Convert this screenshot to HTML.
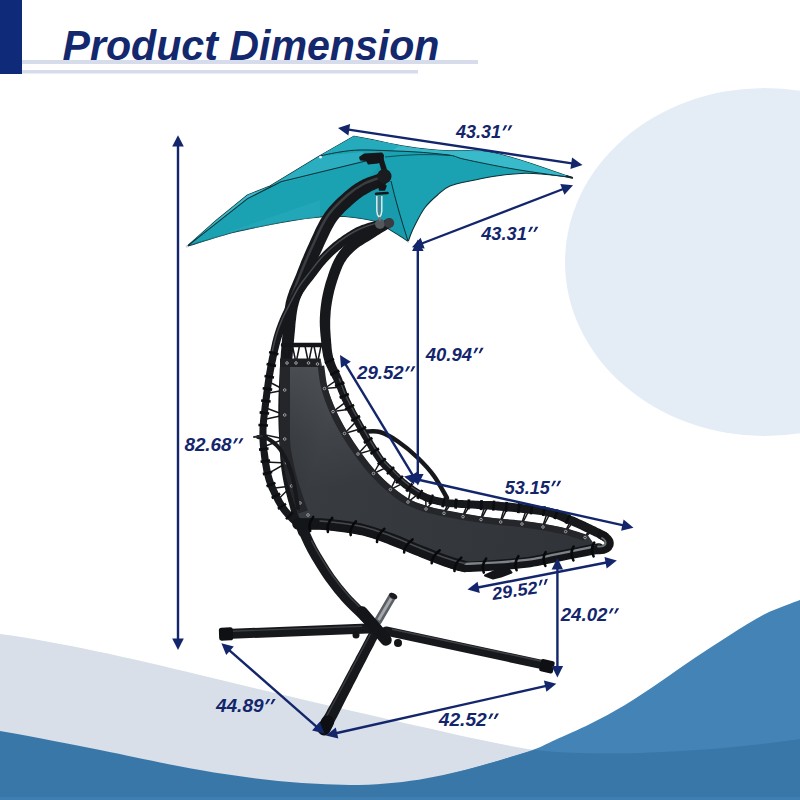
<!DOCTYPE html>
<html>
<head>
<meta charset="utf-8">
<title>Product Dimension</title>
<style>
html,body{margin:0;padding:0;background:#fff;}
body{width:800px;height:800px;overflow:hidden;position:relative;font-family:"Liberation Sans",sans-serif;}
svg{position:absolute;left:0;top:0;display:block;}
.lbl{font-family:"Liberation Sans",sans-serif;font-weight:bold;font-style:italic;fill:#13266b;}
</style>
</head>
<body>
<svg width="800" height="800" viewBox="0 0 800 800">
<defs>
  <linearGradient id="fabgrad" gradientUnits="userSpaceOnUse" x1="280" y1="440" x2="600" y2="540">
    <stop offset="0" stop-color="#2e3135"/>
    <stop offset="0.12" stop-color="#383b40"/>
    <stop offset="0.45" stop-color="#35383d"/>
    <stop offset="1" stop-color="#303338"/>
  </linearGradient>
  <linearGradient id="fabtop" gradientUnits="userSpaceOnUse" x1="300" y1="360" x2="315" y2="490">
    <stop offset="0" stop-color="#8a8e95" stop-opacity="0.32"/>
    <stop offset="0.6" stop-color="#8a8e95" stop-opacity="0.10"/>
    <stop offset="1" stop-color="#8a8e95" stop-opacity="0"/>
  </linearGradient>
</defs>

<!-- ===== BACKGROUND ===== -->
<rect width="800" height="800" fill="#ffffff"/>
<ellipse cx="765" cy="262" rx="200" ry="174" fill="#e4edf6"/>

<!-- grey wave -->
<path id="wave-grey" d="M0,634 C60,642 130,658 200,675 C270,692 340,708 400,722 C450,733 500,745 540,751 L640,800 L0,800 Z" fill="#d8dfe9"/>
<!-- light blue wave -->
<path id="wave-lblue" d="M800.0,600.0 C794.2,602.3 776.7,608.2 765.0,614.0 C753.3,619.8 741.7,627.7 730.0,635.0 C718.3,642.3 706.7,649.9 695.0,657.8 C683.3,665.6 671.7,674.1 660.0,682.0 C648.3,689.9 636.7,698.0 625.0,705.0 C613.3,712.0 601.7,718.2 590.0,724.0 C578.3,729.8 564.8,735.6 555.0,740.0 C545.2,744.4 543.5,746.2 531.0,750.5 C518.5,754.8 496.8,761.1 480.0,766.0 C463.2,770.9 446.7,774.3 430.0,780.0 C413.3,785.7 388.3,796.7 380.0,800.0 L800,800 Z" fill="#4383b6"/>
<!-- dark blue wave -->
<path id="wave-dblue" d="M0,731 C40,738 70,744 100,750 C140,758 170,765 200,770 C250,779 300,784 350,785 C400,785 440,777 480,766 C505,759 520,754 535,750 C570,754 610,754 640,753 C700,751 760,745 800,739 L800,800 L0,800 Z" fill="#3a77a9"/>
<rect x="0" y="797" width="800" height="3" fill="#3f7eb1"/>

<!-- ===== HEADER ===== -->
<g id="header">
  <rect x="0" y="0" width="22" height="74" fill="#0f2a78"/>
  <rect x="22" y="60" width="456" height="4" fill="#d6dcea"/>
  <rect x="22" y="70" width="396" height="3.5" fill="#d6dcea"/>
  <text id="title" x="62.5" y="59.5" font-family="Liberation Sans, sans-serif" font-weight="bold" font-style="italic" font-size="42.5" fill="#14286d" textLength="377" lengthAdjust="spacingAndGlyphs">Product Dimension</text>
</g>

<!-- ===== CHAIR ===== -->
<g id="chair">
<g id="umbrella">
<path d="M186.7,246.6 Q216,219.5 247.5,195 L270,186 L319.5,156 L354,136.2 C357.5,136.9 366.5,138.6 375.0,140.3 C383.5,142.0 396.2,144.8 405.0,146.3 C413.8,147.8 420.0,148.6 427.5,149.3 C435.0,150.1 443.2,150.6 450.0,150.8 C456.8,151.0 461.8,150.4 468.0,150.6 C474.2,150.8 480.5,150.7 487.5,151.8 C494.5,152.9 502.5,155.0 510.0,157.0 C517.5,159.0 525.0,161.5 532.5,164.0 C540.0,166.5 548.5,169.5 555.0,171.8 C561.5,174.0 568.8,176.5 571.5,177.4 C567.2,176.9 553.8,175.2 546.0,174.5 C538.2,173.8 532.7,173.0 525.0,173.2 C517.3,173.4 508.3,174.4 500.0,175.5 C491.7,176.6 483.3,178.2 475.0,180.0 C466.7,181.8 456.2,183.5 450.0,186.0 C443.8,188.5 441.7,191.4 437.5,195.0 C433.3,198.6 428.8,202.5 425.0,207.5 C421.2,212.5 417.4,220.4 415.0,225.0 C412.6,229.6 411.6,232.2 410.5,235.0 C409.4,237.8 408.7,240.4 408.3,241.5 C406.5,240.3 400.6,236.2 397.5,234.3 C394.4,232.4 393.2,231.9 390.0,229.8 C386.8,227.8 385.5,224.2 378.0,222.0 C370.5,219.8 354.7,217.3 345.0,216.5 C335.3,215.7 329.2,216.2 320.0,217.0 C310.8,217.8 304.2,218.5 290.0,221.0 C275.8,223.5 252.2,227.7 235.0,232.0 C217.8,236.3 194.8,244.2 186.7,246.6 Z" fill="#1aa1b2" stroke="#0b3036" stroke-width="1.1" stroke-linejoin="round"/>
<path d="M319.5,156 L354,136.2 C357.5,136.9 366.5,138.6 375.0,140.3 C383.5,142.0 396.2,144.8 405.0,146.3 C413.8,147.8 420.0,148.6 427.5,149.3 C435.0,150.1 443.2,150.6 450.0,150.8 C456.8,151.0 461.8,150.4 468.0,150.6 C474.2,150.8 480.5,150.7 487.5,151.8 C494.5,152.9 502.5,155.0 510.0,157.0 C517.5,159.0 525.0,161.5 532.5,164.0 C540.0,166.5 548.5,169.5 555.0,171.8 C561.5,174.0 568.8,176.5 571.5,177.4 C567.2,176.8 556.2,175.5 546.0,174.0 C535.8,172.5 523.5,170.8 510.0,168.4 C496.5,166.0 475.0,161.6 465.0,159.4 C455.0,157.2 457.5,156.4 450.0,155.2 C442.5,154.1 430.0,153.0 420.0,152.2 C410.0,151.5 400.0,151.1 390.0,150.8 C380.0,150.4 368.3,149.8 360.0,150.0 C351.7,150.2 346.8,151.0 340.0,152.0 C333.2,153.0 322.9,155.3 319.5,156.0 Z" fill="#3cbccc" opacity="0.9"/>
<path d="M319.5,156 L354,136.2 L400,145.5 L392,150.8 L360,150 Z" fill="#1fa5b6" opacity="0.7"/>
<path d="M270,186 L319.5,156 L362,152 L378,158 Z" fill="#2fb2c3" opacity="0.8"/>
<path d="M186.7,246.6 Q216,219.5 247.5,195 L270,186 L247.5,198.6 Z" fill="#45c0cf" opacity="0.8"/>
<path d="M385,160 L408.3,241.5 C406.5,240.3 400.6,236.2 397.5,234.3 C394.4,232.4 393.2,231.9 390.0,229.8 C386.8,227.8 385.5,224.2 378.0,222.0 C370.5,219.8 353.0,217.4 345.0,216.5 C337.0,215.6 332.5,216.5 330.0,216.5 L330,216 Z" fill="#1799aa" opacity="0.6"/>
<path d="M186.7,246.6 L320,200 L320,217 L290,221 L235,232 Z" fill="#27adbd" opacity="0.5"/>
<path d="M186.7,246.6 L247.5,198.6 L281,181.7 L378,158" stroke="#0b3036" stroke-width="1.1" fill="none"/>
<path d="M319.5,156.0 C322.9,155.3 333.2,153.0 340.0,152.0 C346.8,151.0 351.7,150.2 360.0,150.0 C368.3,149.8 380.0,150.4 390.0,150.8 C400.0,151.1 410.0,151.5 420.0,152.2 C430.0,153.0 442.5,154.1 450.0,155.2 C457.5,156.4 455.0,157.2 465.0,159.4 C475.0,161.6 496.5,166.0 510.0,168.4 C523.5,170.8 535.8,172.5 546.0,174.0 C556.2,175.5 567.2,176.8 571.5,177.4" stroke="#0b3036" stroke-width="1" fill="none"/>
<path d="M385,157 Q420,153 450,155.5" stroke="#0b3036" stroke-width="0.9" fill="none" opacity="0.8"/>
<path d="M391,181 Q397,207 408,241" stroke="#0b3036" stroke-width="1" fill="none"/>
<circle cx="187" cy="246.5" r="1.3" fill="#d9dcdf"/>
<circle cx="320.5" cy="157.2" r="1.4" fill="#eef0f2"/>
<circle cx="408.3" cy="242" r="1" fill="#d9dcdf"/>
<path d="M567,176.2 L572,177.8" stroke="#14292d" stroke-width="2.2" stroke-linecap="round"/>
</g>
<g id="frame-back" fill="none" stroke-linecap="round" stroke-linejoin="round">
<path d="M378.7,173.9 L378.0,174.1 L377.2,174.3 L376.1,174.6 L374.9,175.0 L373.6,175.4 L372.1,175.9 L370.6,176.4 L369.0,176.9 L367.4,177.5 L365.8,178.2 L364.1,178.9 L362.6,179.6 L361.2,180.4 L359.8,181.1 L358.5,181.9 L357.1,182.7 L355.7,183.6 L354.3,184.5 L352.9,185.5 L351.4,186.6 L349.9,187.7 L348.4,188.9 L346.8,190.2 L345.2,191.6 L343.6,192.9 L342.0,194.4 L340.3,195.9 L338.5,197.5 L336.7,199.2 L334.9,201.0 L333.0,202.9 L331.2,204.9 L329.3,207.0 L327.5,209.2 L325.7,211.5 L324.0,213.9 L322.4,216.5 L320.8,219.1 L319.2,221.9 L317.8,224.7 L316.3,227.6 L314.9,230.5 L313.6,233.4 L312.3,236.2 L311.0,239.0 L309.8,241.8 L308.6,244.4 L307.4,247.0 L306.3,249.5 L305.2,252.0 L304.1,254.4 L303.1,256.9 L302.1,259.3 L301.1,261.6 L300.2,264.0 L299.3,266.3 L298.4,268.6 L297.4,270.9 L296.6,273.2 L295.7,275.4 L294.8,277.5 L294.0,279.6 L293.1,281.6 L292.2,283.7 L291.3,285.8 L290.4,287.9 L289.5,290.1 L288.7,292.4 L287.9,294.7 L287.1,297.2 L286.4,299.8 L285.7,302.6 L285.2,305.4 L284.7,308.4 L284.3,311.3 L284.0,314.4 L283.6,317.4 L283.4,320.6 L283.1,323.7 L282.9,326.8 L282.7,330.0 L282.5,333.2 L282.3,336.3 L282.0,339.5 L281.7,342.7 L281.5,345.9 L281.2,349.2 L280.9,352.5 L280.7,355.9 L280.4,359.3 L280.2,362.7 L280.0,366.1 L279.7,369.5 L279.6,372.9 L279.4,376.3 L279.2,379.7 L279.1,383.0 L278.9,386.3 L278.8,389.5 L278.6,392.7 L278.5,395.9 L278.4,399.2 L278.4,402.5 L278.3,405.8 L278.3,409.3 L278.3,412.8 L278.3,416.4 L278.4,420.1 L278.5,424.0 L278.6,428.0 L278.8,432.2 L279.0,436.5 L279.2,440.9 L279.4,445.3 L279.6,449.7 L280.0,454.1 L280.3,458.4 L280.7,462.7 L281.1,466.8 L281.6,470.7 L282.2,474.6 L282.9,478.4 L283.6,482.2 L284.4,485.9 L285.2,489.5 L286.1,493.0 L287.0,496.4 L287.8,499.7 L288.7,502.8 L289.5,505.8 L290.3,508.7 L291.0,511.3 L291.7,513.9 L292.4,516.4 L293.1,518.8 L293.8,521.0 L294.6,523.2 L295.2,525.1 L295.9,527.0 L296.5,528.6 L297.0,530.1 L297.5,531.5 L297.9,532.6 L298.3,533.6 L307.7,530.4 L307.4,529.4 L307.0,528.2 L306.6,526.8 L306.0,525.3 L305.5,523.6 L304.9,521.9 L304.3,520.0 L303.6,517.9 L303.0,515.8 L302.3,513.5 L301.7,511.2 L301.0,508.7 L300.3,506.0 L299.6,503.1 L298.8,500.2 L298.0,497.0 L297.2,493.8 L296.4,490.5 L295.6,487.1 L294.8,483.6 L294.1,480.1 L293.5,476.5 L292.9,472.9 L292.4,469.3 L291.9,465.5 L291.5,461.6 L291.2,457.5 L290.9,453.3 L290.6,449.0 L290.4,444.7 L290.2,440.4 L290.0,436.1 L289.9,431.8 L289.8,427.7 L289.7,423.7 L289.6,419.9 L289.6,416.2 L289.5,412.7 L289.6,409.3 L289.6,406.0 L289.7,402.8 L289.8,399.6 L290.0,396.4 L290.1,393.2 L290.3,390.0 L290.4,386.8 L290.6,383.6 L290.8,380.3 L291.0,377.0 L291.2,373.6 L291.4,370.3 L291.7,366.9 L291.9,363.6 L292.2,360.2 L292.5,356.9 L292.8,353.5 L293.1,350.2 L293.4,347.0 L293.7,343.7 L294.0,340.5 L294.3,337.3 L294.6,334.1 L294.9,331.0 L295.2,327.8 L295.4,324.7 L295.7,321.7 L296.1,318.7 L296.4,315.8 L296.8,313.1 L297.2,310.4 L297.7,307.8 L298.3,305.4 L298.9,303.1 L299.5,301.0 L300.2,299.0 L301.0,297.0 L301.7,295.0 L302.6,293.1 L303.5,291.2 L304.4,289.2 L305.4,287.2 L306.3,285.1 L307.3,282.9 L308.3,280.6 L309.3,278.3 L310.2,276.1 L311.2,273.9 L312.1,271.6 L313.1,269.4 L314.1,267.1 L315.1,264.8 L316.1,262.5 L317.2,260.2 L318.3,257.9 L319.4,255.5 L320.6,253.0 L321.8,250.5 L323.0,247.8 L324.2,245.0 L325.5,242.2 L326.8,239.4 L328.1,236.7 L329.4,233.9 L330.7,231.3 L332.0,228.8 L333.3,226.4 L334.7,224.1 L336.0,222.1 L337.4,220.1 L338.8,218.3 L340.3,216.5 L341.9,214.7 L343.5,213.0 L345.1,211.3 L346.8,209.7 L348.4,208.2 L350.1,206.7 L351.7,205.2 L353.3,203.8 L354.8,202.4 L356.2,201.2 L357.5,200.2 L358.7,199.2 L360.0,198.3 L361.1,197.4 L362.3,196.6 L363.5,195.8 L364.7,195.1 L365.8,194.4 L367.0,193.7 L368.2,193.0 L369.4,192.4 L370.5,191.7 L371.7,191.1 L372.9,190.5 L374.2,189.9 L375.6,189.3 L376.9,188.8 L378.1,188.2 L379.4,187.7 L380.5,187.3 L381.6,186.8 L382.5,186.4 L383.3,186.1 Z" fill="#17181b" stroke="none" /><circle cx="381.0" cy="180.0" r="6.5" fill="#17181b" stroke="none"/><circle cx="303.0" cy="532.0" r="5.0" fill="#17181b" stroke="none"/>
<path d="M381.0,180.0 C378.5,181.0 371.2,183.2 366.0,186.0 C360.8,188.8 356.0,191.7 350.0,197.0 C344.0,202.3 336.0,209.2 330.0,218.0 C324.0,226.8 318.7,240.0 314.0,250.0 C309.3,260.0 305.7,269.0 302.0,278.0 C298.3,287.0 293.7,299.7 292.0,304.0" stroke="#3a3d42" stroke-width="2.5" transform="translate(-2.5,-2)"/>
<path d="M296.0,510.0 C297.0,512.8 299.8,521.5 302.0,527.0 C304.2,532.5 306.7,538.2 309.0,543.0 C311.3,547.8 312.5,550.2 316.0,556.0 C319.5,561.8 325.0,571.0 330.0,578.0 C335.0,585.0 340.3,591.7 346.0,598.0 C351.7,604.3 359.0,611.0 364.0,616.0 C369.0,621.0 374.0,626.0 376.0,628.0" stroke="#17181b" stroke-width="10.3"/>
<path d="M309.0,543.0 C310.2,545.2 312.5,550.2 316.0,556.0 C319.5,561.8 325.0,571.0 330.0,578.0 C335.0,585.0 340.3,591.7 346.0,598.0 C351.7,604.3 361.0,613.0 364.0,616.0" stroke="#3a3d42" stroke-width="1.5" transform="translate(2.6,-2.2)"/>
</g>
<g id="base" stroke-linecap="butt" fill="none">
<path d="M392,597 L378,621" stroke="#5b5f64" stroke-width="8" stroke-linecap="round"/>
<path d="M391.2,598.5 L378.5,620" stroke="#a3a7ab" stroke-width="3"/>
<ellipse cx="393.2" cy="596" rx="4.4" ry="2.6" fill="#1b1c1f" stroke="none" transform="rotate(30 393.2 596)"/>
<path d="M226,634 L368,628.5" stroke="#17181b" stroke-width="10" stroke-linecap="round"/>
<path d="M232,631.2 L362,626.3" stroke="#3a3d42" stroke-width="1.4"/>
<rect x="219" y="627.5" width="14" height="13" rx="2.5" fill="#0f1013" stroke="none" transform="rotate(-2 226 634)"/>
<path d="M386,631 L549,666" stroke="#17181b" stroke-width="9.2" stroke-linecap="round"/>
<path d="M392,629.3 L543,661.5" stroke="#3c3f44" stroke-width="1.4"/>
<rect x="540" y="660" width="14" height="12.5" rx="2" fill="#0f1013" stroke="none" transform="rotate(12 547 666)"/>
<path d="M369.6,631.7 L368.8,633.1 L367.8,635.0 L366.6,637.1 L365.4,639.5 L363.9,642.2 L362.5,645.0 L360.9,647.9 L359.4,650.8 L357.8,653.8 L356.2,656.6 L354.8,659.4 L353.4,662.1 L352.0,664.6 L350.6,667.1 L349.3,669.7 L347.9,672.2 L346.6,674.8 L345.2,677.3 L343.9,679.8 L342.5,682.4 L341.2,684.9 L339.8,687.4 L338.5,689.9 L337.1,692.4 L335.7,695.0 L334.2,697.7 L332.6,700.6 L331.0,703.4 L329.4,706.3 L327.8,709.1 L326.3,711.9 L324.9,714.4 L323.5,716.8 L322.3,718.9 L321.3,720.6 L320.5,722.1 L331.5,727.9 L332.2,726.5 L333.1,724.6 L334.2,722.5 L335.4,720.1 L336.8,717.5 L338.2,714.7 L339.7,711.8 L341.1,708.9 L342.6,705.9 L344.1,703.0 L345.5,700.2 L346.9,697.6 L348.2,695.0 L349.5,692.5 L350.8,689.9 L352.1,687.4 L353.4,684.8 L354.8,682.3 L356.1,679.7 L357.4,677.2 L358.7,674.6 L360.0,672.0 L361.3,669.5 L362.6,666.9 L364.0,664.3 L365.5,661.5 L367.0,658.6 L368.5,655.6 L370.0,652.6 L371.5,649.7 L373.0,646.9 L374.4,644.3 L375.6,641.8 L376.7,639.7 L377.7,637.8 L378.4,636.3 Z" fill="#17181b" stroke="none" /><circle cx="374.0" cy="634.0" r="5.0" fill="#17181b" stroke="none"/><circle cx="326.0" cy="725.0" r="6.2" fill="#17181b" stroke="none"/>
<path d="M370.5,634 L323.5,722" stroke="#383b40" stroke-width="1.5"/>
<path d="M327.5,722 L324,729" stroke="#0e0f12" stroke-width="13" stroke-linecap="round"/>
<path d="M362,612 L386,640" stroke="#141518" stroke-width="11.5" stroke-linecap="round"/>
<circle cx="356" cy="635" r="3.5" fill="#141518" stroke="none"/>
<circle cx="398" cy="643" r="4" fill="#141518" stroke="none"/>
</g>
<g id="seat">
<path d="M284.7,390.0 L268.4,381.5" stroke="#15161a" stroke-width="1.5"/>
<path d="M284.7,390.0 L266.6,393.5" stroke="#15161a" stroke-width="1.5"/>
<path d="M284.7,415.0 L264.8,407.5" stroke="#15161a" stroke-width="1.5"/>
<path d="M284.7,415.0 L264.0,419.5" stroke="#15161a" stroke-width="1.5"/>
<path d="M284.7,439.0 L263.1,434.5" stroke="#15161a" stroke-width="1.5"/>
<path d="M284.7,439.0 L264.0,446.5" stroke="#15161a" stroke-width="1.5"/>
<path d="M286.5,463.0 L265.2,462.0" stroke="#15161a" stroke-width="1.5"/>
<path d="M286.5,463.0 L268.0,473.7" stroke="#15161a" stroke-width="1.5"/>
<path d="M291.5,486.0 L273.1,488.3" stroke="#15161a" stroke-width="1.5"/>
<path d="M291.5,486.0 L278.5,499.0" stroke="#15161a" stroke-width="1.5"/>
<path d="M324.5,388.5 L339.2,378.4" stroke="#15161a" stroke-width="1.5"/>
<path d="M324.5,388.5 L342.3,386.9" stroke="#15161a" stroke-width="1.5"/>
<path d="M333.0,411.6 L347.7,400.7" stroke="#15161a" stroke-width="1.5"/>
<path d="M333.0,411.6 L351.4,409.1" stroke="#15161a" stroke-width="1.5"/>
<path d="M344.5,433.5 L357.1,420.5" stroke="#15161a" stroke-width="1.5"/>
<path d="M344.5,433.5 L361.6,428.5" stroke="#15161a" stroke-width="1.5"/>
<path d="M358.0,454.0 L369.5,441.6" stroke="#15161a" stroke-width="1.5"/>
<path d="M358.0,454.0 L374.2,449.4" stroke="#15161a" stroke-width="1.5"/>
<path d="M373.5,473.5 L381.0,460.5" stroke="#15161a" stroke-width="1.5"/>
<path d="M373.5,473.5 L387.2,467.1" stroke="#15161a" stroke-width="1.5"/>
<path d="M390.4,489.6 L396.8,476.8" stroke="#15161a" stroke-width="1.5"/>
<path d="M390.4,489.6 L403.6,482.9" stroke="#15161a" stroke-width="1.5"/>
<path d="M408.0,502.0 L410.9,488.6" stroke="#15161a" stroke-width="1.5"/>
<path d="M408.0,502.0 L418.7,493.7" stroke="#15161a" stroke-width="1.5"/>
<path d="M426.0,509.0 L425.7,497.1" stroke="#15161a" stroke-width="1.5"/>
<path d="M426.0,509.0 L434.5,500.1" stroke="#15161a" stroke-width="1.5"/>
<path d="M444.0,513.3 L451.5,503.3" stroke="#15161a" stroke-width="1.5"/>
<path d="M443.5,513.3 L448.0,504.3" stroke="#15161a" stroke-width="1.5"/>
<path d="M463.0,516.7 L470.5,504.4" stroke="#15161a" stroke-width="1.5"/>
<path d="M462.5,516.7 L467.0,505.4" stroke="#15161a" stroke-width="1.5"/>
<path d="M481.0,519.6 L488.5,505.2" stroke="#15161a" stroke-width="1.5"/>
<path d="M480.5,519.6 L485.0,506.2" stroke="#15161a" stroke-width="1.5"/>
<path d="M500.7,522.0 L508.0,506.8" stroke="#15161a" stroke-width="1.5"/>
<path d="M500.2,522.0 L504.5,507.8" stroke="#15161a" stroke-width="1.5"/>
<path d="M522.0,524.0 L529.5,509.5" stroke="#15161a" stroke-width="1.5"/>
<path d="M521.5,524.0 L526.0,510.5" stroke="#15161a" stroke-width="1.5"/>
<path d="M543.0,527.0 L550.3,513.0" stroke="#15161a" stroke-width="1.5"/>
<path d="M542.5,527.0 L546.8,514.0" stroke="#15161a" stroke-width="1.5"/>
<path d="M565.7,531.6 L573.3,521.5" stroke="#15161a" stroke-width="1.5"/>
<path d="M565.2,531.6 L569.8,522.5" stroke="#15161a" stroke-width="1.5"/>
<path d="M585.0,537.5 L592.3,530.3" stroke="#15161a" stroke-width="1.5"/>
<path d="M584.5,537.5 L588.8,531.3" stroke="#15161a" stroke-width="1.5"/>
<path d="M283.5,346.0 L287.0,363.0" stroke="#15161a" stroke-width="1.5"/>
<path d="M290.5,346.0 L287.0,363.0" stroke="#15161a" stroke-width="1.5"/>
<path d="M292.5,346.0 L296.0,363.0" stroke="#15161a" stroke-width="1.5"/>
<path d="M299.5,346.0 L296.0,363.0" stroke="#15161a" stroke-width="1.5"/>
<path d="M305.0,346.0 L308.5,363.0" stroke="#15161a" stroke-width="1.5"/>
<path d="M312.0,346.0 L308.5,363.0" stroke="#15161a" stroke-width="1.5"/>
<path d="M314.0,346.0 L317.5,363.0" stroke="#15161a" stroke-width="1.5"/>
<path d="M321.0,346.0 L317.5,363.0" stroke="#15161a" stroke-width="1.5"/>
<path d="M320.5,359.0 C321.7,363.8 324.9,379.2 327.4,387.7 C329.9,396.3 332.5,403.0 335.7,410.4 C339.0,417.8 343.0,425.0 347.1,432.0 C351.2,439.0 355.7,445.7 360.4,452.2 C365.2,458.8 370.4,465.6 375.7,471.5 C381.0,477.3 386.7,482.6 392.3,487.3 C397.9,491.9 403.7,496.2 409.4,499.4 C415.2,502.5 421.0,504.3 426.9,506.1 C432.8,508.0 438.5,509.1 444.6,510.4 C450.7,511.6 457.4,512.7 463.5,513.7 C469.6,514.8 475.2,515.8 481.4,516.6 C487.7,517.5 494.2,518.3 501.0,519.0 C507.8,519.7 515.3,520.2 522.4,521.0 C529.4,521.9 536.2,522.8 543.5,524.0 C550.9,525.3 559.0,526.8 566.4,528.7 C573.8,530.6 584.4,534.4 588.0,535.5 L597,548 C591.2,548.8 573.7,551.3 562.5,553.0 C551.3,554.7 540.8,556.7 530.0,558.0 C519.2,559.3 508.3,560.3 497.5,561.0 C486.7,561.7 473.6,562.7 465.0,562.0 C456.4,561.3 453.7,559.7 446.0,557.0 C438.3,554.3 428.2,549.7 419.0,546.0 C409.8,542.3 400.2,538.3 391.0,535.0 C381.8,531.7 373.2,528.2 364.0,526.0 C354.8,523.8 346.3,522.5 336.0,521.5 C325.7,520.5 307.7,520.2 302.0,520.0 L299,517 C297.2,511.2 290.8,492.8 288.0,482.5 C285.2,472.2 283.3,462.1 282.0,455.0 C280.7,447.9 280.3,449.2 280.0,440.0 C279.7,430.8 280.0,413.5 280.0,400.0 C280.0,386.5 280.0,365.8 280.0,359.0 Z" fill="url(#fabgrad)"/>
<path d="M320.5,359.0 C321.7,363.8 324.9,379.2 327.4,387.7 C329.9,396.3 332.5,403.0 335.7,410.4 C339.0,417.8 343.0,425.0 347.1,432.0 C351.2,439.0 355.7,445.7 360.4,452.2 C365.2,458.8 370.4,465.6 375.7,471.5 C381.0,477.3 386.7,482.6 392.3,487.3 C397.9,491.9 403.7,496.2 409.4,499.4 C415.2,502.5 421.0,504.3 426.9,506.1 C432.8,508.0 438.5,509.1 444.6,510.4 C450.7,511.6 457.4,512.7 463.5,513.7 C469.6,514.8 475.2,515.8 481.4,516.6 C487.7,517.5 494.2,518.3 501.0,519.0 C507.8,519.7 515.3,520.2 522.4,521.0 C529.4,521.9 536.2,522.8 543.5,524.0 C550.9,525.3 559.0,526.8 566.4,528.7 C573.8,530.6 584.4,534.4 588.0,535.5 L597,548 C591.2,548.8 573.7,551.3 562.5,553.0 C551.3,554.7 540.8,556.7 530.0,558.0 C519.2,559.3 508.3,560.3 497.5,561.0 C486.7,561.7 473.6,562.7 465.0,562.0 C456.4,561.3 453.7,559.7 446.0,557.0 C438.3,554.3 428.2,549.7 419.0,546.0 C409.8,542.3 400.2,538.3 391.0,535.0 C381.8,531.7 373.2,528.2 364.0,526.0 C354.8,523.8 346.3,522.5 336.0,521.5 C325.7,520.5 307.7,520.2 302.0,520.0 L299,517 C297.2,511.2 290.8,492.8 288.0,482.5 C285.2,472.2 283.3,462.1 282.0,455.0 C280.7,447.9 280.3,449.2 280.0,440.0 C279.7,430.8 280.0,413.5 280.0,400.0 C280.0,386.5 280.0,365.8 280.0,359.0 Z" fill="url(#fabtop)"/>
<path d="M321.0,366.0 C321.6,369.8 322.5,380.9 324.5,388.5 C326.5,396.1 329.7,404.1 333.0,411.6 C336.3,419.1 340.3,426.4 344.5,433.5 C348.7,440.6 353.2,447.3 358.0,454.0 C362.8,460.7 368.1,467.6 373.5,473.5 C378.9,479.4 384.6,484.9 390.4,489.6 C396.1,494.4 402.1,498.8 408.0,502.0 C413.9,505.2 420.0,507.1 426.0,509.0 C432.0,510.9 437.8,512.0 444.0,513.3 C450.2,514.6 456.8,515.7 463.0,516.7 C469.2,517.8 474.7,518.7 481.0,519.6 C487.3,520.5 493.9,521.3 500.7,522.0 C507.5,522.7 515.0,523.2 522.0,524.0 C529.0,524.8 535.7,525.7 543.0,527.0 C550.3,528.3 558.7,529.9 565.7,531.6 C572.7,533.4 581.8,536.5 585.0,537.5" stroke="#24262a" stroke-width="6.5" fill="none"/>
<path d="M285.0,362.0 C285.0,368.3 285.0,387.0 285.0,400.0 C285.0,413.0 284.7,430.7 285.0,440.0 C285.3,449.3 285.7,449.0 287.0,456.0 C288.3,463.0 290.3,472.7 293.0,482.0 C295.7,491.3 301.3,507.0 303.0,512.0" stroke="#24262a" stroke-width="10" fill="none"/>
<rect x="280" y="358.5" width="40.5" height="8.5" fill="#1d1f22"/>
<circle cx="287.0" cy="363.0" r="1.3" fill="#2a2c30" stroke="#b4b8bd" stroke-width="0.8"/>
<circle cx="296.0" cy="363.0" r="1.3" fill="#2a2c30" stroke="#b4b8bd" stroke-width="0.8"/>
<circle cx="308.5" cy="363.0" r="1.3" fill="#2a2c30" stroke="#b4b8bd" stroke-width="0.8"/>
<circle cx="317.5" cy="364.0" r="1.3" fill="#2a2c30" stroke="#b4b8bd" stroke-width="0.8"/>
<circle cx="284.7" cy="390.0" r="1.3" fill="#2a2c30" stroke="#b4b8bd" stroke-width="0.8"/>
<circle cx="284.7" cy="415.0" r="1.3" fill="#2a2c30" stroke="#b4b8bd" stroke-width="0.8"/>
<circle cx="284.7" cy="439.0" r="1.3" fill="#2a2c30" stroke="#b4b8bd" stroke-width="0.8"/>
<circle cx="286.5" cy="463.0" r="1.3" fill="#2a2c30" stroke="#b4b8bd" stroke-width="0.8"/>
<circle cx="291.5" cy="486.0" r="1.3" fill="#2a2c30" stroke="#b4b8bd" stroke-width="0.8"/>
<circle cx="300.0" cy="503.0" r="1.3" fill="#2a2c30" stroke="#b4b8bd" stroke-width="0.8"/>
<circle cx="308.0" cy="515.0" r="1.3" fill="#2a2c30" stroke="#b4b8bd" stroke-width="0.8"/>
<circle cx="324.5" cy="388.5" r="1.3" fill="#2a2c30" stroke="#b4b8bd" stroke-width="0.8"/>
<circle cx="333.0" cy="411.6" r="1.3" fill="#2a2c30" stroke="#b4b8bd" stroke-width="0.8"/>
<circle cx="344.5" cy="433.5" r="1.3" fill="#2a2c30" stroke="#b4b8bd" stroke-width="0.8"/>
<circle cx="358.0" cy="454.0" r="1.3" fill="#2a2c30" stroke="#b4b8bd" stroke-width="0.8"/>
<circle cx="373.5" cy="473.5" r="1.3" fill="#2a2c30" stroke="#b4b8bd" stroke-width="0.8"/>
<circle cx="390.4" cy="489.6" r="1.3" fill="#2a2c30" stroke="#b4b8bd" stroke-width="0.8"/>
<circle cx="408.0" cy="502.0" r="1.3" fill="#2a2c30" stroke="#b4b8bd" stroke-width="0.8"/>
<circle cx="426.0" cy="509.0" r="1.3" fill="#2a2c30" stroke="#b4b8bd" stroke-width="0.8"/>
<circle cx="444.0" cy="513.3" r="1.3" fill="#2a2c30" stroke="#b4b8bd" stroke-width="0.8"/>
<circle cx="463.0" cy="516.7" r="1.3" fill="#2a2c30" stroke="#b4b8bd" stroke-width="0.8"/>
<circle cx="481.0" cy="519.6" r="1.3" fill="#2a2c30" stroke="#b4b8bd" stroke-width="0.8"/>
<circle cx="500.7" cy="522.0" r="1.3" fill="#2a2c30" stroke="#b4b8bd" stroke-width="0.8"/>
<circle cx="522.0" cy="524.0" r="1.3" fill="#2a2c30" stroke="#b4b8bd" stroke-width="0.8"/>
<circle cx="543.0" cy="527.0" r="1.3" fill="#2a2c30" stroke="#b4b8bd" stroke-width="0.8"/>
<circle cx="565.7" cy="531.6" r="1.3" fill="#2a2c30" stroke="#b4b8bd" stroke-width="0.8"/>
<circle cx="585.0" cy="537.5" r="1.3" fill="#2a2c30" stroke="#b4b8bd" stroke-width="0.8"/>
</g>
<g id="frame-front" fill="none" stroke-linecap="round" stroke-linejoin="round">
<path d="M283,345 L326,345" stroke="#141518" stroke-width="4.5"/>
<path d="M365.0,431.6 C367.5,431.7 374.5,430.4 380.0,432.0 C385.5,433.6 391.7,437.2 398.0,441.5 C404.3,445.8 412.0,452.2 418.0,458.0 C424.0,463.8 429.2,469.3 434.0,476.0 C438.8,482.7 444.8,494.3 447.0,498.0" stroke="#17181b" stroke-width="4.5"/>
<path d="M386.8,219.1 L385.8,219.6 L384.6,220.2 L383.3,220.9 L381.7,221.7 L380.0,222.6 L378.2,223.5 L376.4,224.5 L374.5,225.5 L372.6,226.6 L370.7,227.6 L368.9,228.6 L367.2,229.5 L365.7,230.5 L364.1,231.4 L362.6,232.4 L361.0,233.4 L359.3,234.4 L357.7,235.4 L356.1,236.4 L354.6,237.5 L353.0,238.6 L351.5,239.7 L350.0,240.8 L348.6,242.0 L347.3,243.2 L346.0,244.3 L344.8,245.5 L343.6,246.6 L342.5,247.8 L341.4,249.1 L340.3,250.3 L339.3,251.6 L338.3,253.0 L337.3,254.4 L336.4,255.8 L335.5,257.4 L334.6,259.0 L333.7,260.7 L332.9,262.4 L332.1,264.2 L331.4,266.0 L330.7,267.8 L330.0,269.6 L329.3,271.4 L328.7,273.2 L328.1,274.9 L327.6,276.7 L327.0,278.4 L326.5,280.1 L325.9,281.8 L325.4,283.5 L324.9,285.3 L324.5,287.0 L324.0,288.7 L323.6,290.5 L323.2,292.2 L322.8,293.9 L322.5,295.6 L322.1,297.4 L321.8,299.1 L321.5,300.8 L321.3,302.6 L321.0,304.3 L320.8,306.0 L320.6,307.7 L320.4,309.5 L320.2,311.2 L320.1,312.9 L320.0,314.7 L319.9,316.4 L319.8,318.1 L319.8,319.9 L319.7,321.6 L319.8,323.4 L319.8,325.1 L319.9,326.8 L320.0,328.6 L320.1,330.3 L320.2,332.0 L320.4,333.7 L320.5,335.4 L320.7,337.1 L320.9,338.8 L321.0,340.5 L321.2,342.1 L321.4,343.8 L321.6,345.5 L321.8,347.2 L322.0,348.9 L322.2,350.6 L322.5,352.4 L322.8,354.1 L323.1,355.9 L323.5,357.7 L324.0,359.5 L324.5,361.4 L325.1,363.2 L325.9,365.0 L326.6,366.8 L327.5,368.6 L328.3,370.3 L329.2,372.0 L330.0,373.6 L330.9,375.3 L331.8,376.9 L332.6,378.5 L333.4,380.1 L334.1,381.7 L334.8,383.3 L335.5,384.9 L336.2,386.5 L336.8,388.1 L337.5,389.8 L338.1,391.4 L338.8,393.1 L339.5,394.8 L340.2,396.5 L341.0,398.2 L341.7,399.9 L342.5,401.6 L343.4,403.3 L344.2,405.0 L345.0,406.7 L345.9,408.4 L346.8,410.1 L347.6,411.7 L348.5,413.4 L349.5,415.1 L350.4,416.8 L351.3,418.4 L352.2,420.1 L353.2,421.8 L354.1,423.6 L355.1,425.3 L356.1,427.1 L357.1,428.8 L358.1,430.6 L359.1,432.4 L360.1,434.2 L361.1,436.0 L362.1,437.7 L363.2,439.5 L364.2,441.2 L365.2,443.0 L366.3,444.7 L367.4,446.4 L368.4,448.2 L369.5,450.0 L370.6,451.8 L371.7,453.5 L372.8,455.2 L373.9,456.9 L375.0,458.5 L376.0,460.0 L377.0,461.4 L377.9,462.8 L378.9,464.0 L379.8,465.1 L380.6,466.1 L381.4,467.0 L382.2,467.8 L383.0,468.6 L383.7,469.3 L384.5,469.9 L385.2,470.6 L385.9,471.3 L386.6,471.9 L387.3,472.7 L388.1,473.5 L388.9,474.3 L389.7,475.2 L390.5,476.0 L391.4,476.9 L392.2,477.8 L393.1,478.6 L394.0,479.5 L394.8,480.4 L395.7,481.2 L396.6,482.0 L397.5,482.8 L398.3,483.6 L399.2,484.3 L400.1,485.1 L400.9,485.8 L401.8,486.5 L402.6,487.2 L403.5,487.9 L404.4,488.5 L405.2,489.2 L406.1,489.8 L406.9,490.5 L407.8,491.1 L408.6,491.7 L409.5,492.3 L410.3,492.9 L411.2,493.5 L412.1,494.1 L412.9,494.6 L413.8,495.2 L414.7,495.8 L415.5,496.3 L416.4,496.8 L417.3,497.3 L418.2,497.8 L419.0,498.3 L419.9,498.8 L420.8,499.2 L421.7,499.6 L422.6,500.1 L423.4,500.5 L424.3,500.9 L425.2,501.2 L426.1,501.6 L427.0,501.9 L427.9,502.3 L428.8,502.6 L429.7,502.9 L430.6,503.2 L431.5,503.4 L432.4,503.7 L433.3,503.9 L434.1,504.1 L435.0,504.3 L435.9,504.5 L436.7,504.7 L437.6,504.9 L438.4,505.0 L439.2,505.2 L439.9,505.4 L440.5,505.5 L441.1,505.7 L441.7,505.8 L442.3,506.0 L443.0,506.1 L443.7,506.3 L444.6,506.4 L445.6,506.6 L446.7,506.7 L448.1,506.8 L449.7,507.0 L451.5,507.2 L453.7,507.3 L456.1,507.5 L458.7,507.7 L461.5,507.9 L464.3,508.1 L467.2,508.3 L470.0,508.4 L472.7,508.6 L475.3,508.8 L477.6,508.9 L479.8,509.1 L481.6,509.2 L483.1,509.3 L484.4,509.4 L485.5,509.4 L486.5,509.5 L487.5,509.5 L488.5,509.6 L489.6,509.7 L490.9,509.8 L492.6,509.9 L494.6,510.1 L497.1,510.4 L500.1,510.7 L503.7,511.0 L507.6,511.4 L511.9,511.8 L516.3,512.2 L520.9,512.7 L525.5,513.2 L530.0,513.7 L534.3,514.2 L538.4,514.7 L542.0,515.3 L545.2,515.8 L547.9,516.4 L550.4,517.0 L552.6,517.7 L554.7,518.4 L556.6,519.1 L558.4,519.8 L560.1,520.5 L561.8,521.2 L563.4,522.0 L565.0,522.7 L566.7,523.4 L568.3,524.1 L569.9,524.7 L571.3,525.3 L572.6,525.9 L573.9,526.4 L575.0,527.0 L576.2,527.5 L577.3,528.0 L578.4,528.5 L579.5,529.1 L580.7,529.6 L581.9,530.2 L583.1,530.8 L584.4,531.4 L585.7,532.0 L587.1,532.7 L588.5,533.3 L589.8,534.0 L591.2,534.7 L592.5,535.3 L593.8,535.9 L595.0,536.5 L596.1,537.1 L597.1,537.6 L598.0,538.0 L598.7,538.4 L599.3,538.7 L599.8,539.0 L600.3,539.2 L600.6,539.4 L600.9,539.6 L601.1,539.7 L601.4,539.8 L601.6,540.0 L601.8,540.1 L602.0,540.3 L602.3,540.4 L606.7,532.6 L606.6,532.5 L606.5,532.5 L606.3,532.3 L606.1,532.2 L605.8,532.0 L605.5,531.8 L605.1,531.6 L604.6,531.4 L604.1,531.1 L603.5,530.7 L602.8,530.4 L602.0,530.0 L601.1,529.5 L600.1,529.0 L599.0,528.5 L597.7,527.9 L596.5,527.3 L595.1,526.6 L593.7,526.0 L592.3,525.3 L590.9,524.6 L589.5,524.0 L588.2,523.3 L586.9,522.7 L585.7,522.1 L584.5,521.6 L583.4,521.1 L582.3,520.5 L581.1,520.0 L579.9,519.4 L578.7,518.9 L577.5,518.3 L576.1,517.7 L574.7,517.1 L573.2,516.5 L571.7,515.9 L570.1,515.3 L568.6,514.6 L567.0,513.9 L565.4,513.1 L563.6,512.4 L561.8,511.6 L559.8,510.8 L557.6,510.0 L555.2,509.2 L552.7,508.5 L549.9,507.8 L546.8,507.2 L543.4,506.6 L539.6,506.0 L535.4,505.4 L531.0,504.9 L526.4,504.4 L521.8,503.9 L517.2,503.4 L512.7,503.0 L508.4,502.6 L504.5,502.2 L500.9,501.9 L497.9,501.6 L495.4,501.4 L493.3,501.2 L491.5,501.1 L490.1,501.1 L488.8,501.0 L487.7,501.0 L486.7,501.0 L485.7,501.0 L484.6,501.0 L483.4,501.0 L482.0,501.0 L480.2,500.9 L478.1,500.8 L475.7,500.7 L473.1,500.6 L470.4,500.5 L467.6,500.3 L464.8,500.2 L461.9,500.1 L459.2,499.9 L456.6,499.8 L454.3,499.7 L452.1,499.5 L450.3,499.4 L448.8,499.3 L447.6,499.1 L446.6,499.0 L445.8,498.9 L445.1,498.8 L444.5,498.7 L444.0,498.6 L443.5,498.4 L443.0,498.3 L442.3,498.1 L441.6,498.0 L440.8,497.8 L439.9,497.6 L439.1,497.4 L438.3,497.3 L437.5,497.1 L436.7,496.9 L435.9,496.7 L435.1,496.5 L434.3,496.3 L433.5,496.1 L432.8,495.9 L432.0,495.7 L431.2,495.4 L430.5,495.1 L429.7,494.8 L428.9,494.5 L428.1,494.2 L427.3,493.9 L426.6,493.5 L425.8,493.2 L425.0,492.8 L424.2,492.4 L423.4,492.0 L422.6,491.6 L421.8,491.2 L421.0,490.7 L420.3,490.3 L419.5,489.8 L418.7,489.3 L417.9,488.8 L417.1,488.3 L416.3,487.8 L415.5,487.2 L414.7,486.7 L413.9,486.1 L413.0,485.5 L412.2,484.9 L411.4,484.3 L410.6,483.7 L409.8,483.1 L409.0,482.5 L408.2,481.9 L407.4,481.2 L406.6,480.6 L405.8,479.9 L404.9,479.3 L404.1,478.6 L403.3,477.9 L402.5,477.2 L401.7,476.4 L400.9,475.7 L400.1,474.9 L399.3,474.1 L398.5,473.3 L397.6,472.4 L396.8,471.6 L396.0,470.7 L395.2,469.9 L394.3,469.0 L393.5,468.2 L392.7,467.3 L391.9,466.5 L391.1,465.8 L390.4,465.1 L389.6,464.4 L389.0,463.8 L388.3,463.1 L387.7,462.5 L387.0,461.8 L386.3,461.0 L385.6,460.2 L384.9,459.3 L384.1,458.2 L383.2,457.0 L382.2,455.7 L381.3,454.3 L380.3,452.7 L379.2,451.1 L378.1,449.4 L377.1,447.7 L376.0,446.0 L374.9,444.2 L373.8,442.5 L372.8,440.7 L371.8,439.0 L370.7,437.4 L369.7,435.6 L368.7,433.9 L367.7,432.2 L366.7,430.4 L365.7,428.7 L364.7,426.9 L363.7,425.1 L362.7,423.4 L361.7,421.6 L360.8,419.9 L359.8,418.2 L358.9,416.5 L358.0,414.8 L357.0,413.1 L356.1,411.4 L355.2,409.8 L354.4,408.1 L353.5,406.5 L352.6,404.9 L351.8,403.3 L351.0,401.6 L350.2,400.0 L349.5,398.4 L348.8,396.8 L348.1,395.2 L347.5,393.5 L346.9,391.9 L346.3,390.2 L345.7,388.6 L345.1,386.9 L344.5,385.2 L343.9,383.5 L343.2,381.8 L342.6,380.1 L341.9,378.3 L341.2,376.6 L340.4,374.8 L339.6,373.1 L338.8,371.4 L338.0,369.7 L337.2,368.0 L336.4,366.4 L335.7,364.8 L335.1,363.2 L334.5,361.6 L333.9,360.1 L333.5,358.6 L333.1,357.1 L332.8,355.6 L332.5,354.1 L332.2,352.5 L332.0,351.0 L331.8,349.4 L331.6,347.8 L331.5,346.2 L331.4,344.5 L331.2,342.9 L331.1,341.2 L331.0,339.5 L330.8,337.9 L330.7,336.2 L330.6,334.6 L330.5,333.0 L330.4,331.3 L330.3,329.7 L330.2,328.1 L330.2,326.5 L330.2,324.9 L330.2,323.3 L330.2,321.7 L330.2,320.1 L330.3,318.5 L330.4,316.9 L330.5,315.3 L330.6,313.7 L330.7,312.1 L330.8,310.5 L331.0,308.9 L331.2,307.3 L331.4,305.7 L331.7,304.1 L331.9,302.5 L332.2,300.9 L332.5,299.3 L332.8,297.7 L333.1,296.1 L333.5,294.5 L333.8,292.9 L334.2,291.3 L334.6,289.7 L335.1,288.1 L335.5,286.5 L336.0,284.8 L336.5,283.2 L337.0,281.6 L337.5,279.9 L338.1,278.3 L338.7,276.5 L339.3,274.8 L339.9,273.2 L340.5,271.5 L341.1,269.9 L341.8,268.3 L342.4,266.8 L343.1,265.3 L343.8,263.9 L344.5,262.6 L345.3,261.4 L346.1,260.2 L346.8,259.1 L347.6,258.0 L348.5,257.0 L349.3,255.9 L350.2,254.9 L351.2,254.0 L352.2,253.0 L353.2,252.0 L354.3,251.0 L355.4,250.0 L356.6,249.0 L357.8,248.1 L359.1,247.1 L360.5,246.1 L361.9,245.2 L363.4,244.2 L364.9,243.3 L366.5,242.3 L368.0,241.4 L369.6,240.4 L371.2,239.4 L372.8,238.5 L374.3,237.4 L375.9,236.4 L377.7,235.3 L379.5,234.2 L381.3,233.1 L383.0,232.0 L384.8,230.9 L386.4,229.9 L387.9,229.0 L389.2,228.2 L390.3,227.5 L391.2,226.9 Z" fill="#17181b" stroke="none" /><circle cx="389.0" cy="223.0" r="4.5" fill="#17181b" stroke="none"/><circle cx="604.5" cy="536.5" r="4.5" fill="#17181b" stroke="none"/>
<path d="M338.0,380.0 C339.3,383.3 342.9,393.3 346.0,400.0 C349.1,406.7 352.8,413.2 356.5,420.0 C360.2,426.8 364.4,434.2 368.5,441.0 C372.6,447.8 377.4,455.7 381.0,460.5 C384.6,465.3 386.8,466.8 390.0,470.0 C393.2,473.2 396.7,477.0 400.0,480.0 C403.3,483.0 406.7,485.6 410.0,488.0 C413.3,490.4 418.3,493.4 420.0,494.5" stroke="#4a4d52" stroke-width="1.3" transform="translate(1.2,-1.2)"/>
<path d="M378.7,220.0 L377.7,220.2 L376.6,220.6 L375.1,220.9 L373.5,221.4 L371.8,221.9 L369.9,222.4 L367.9,223.0 L365.9,223.7 L363.9,224.4 L361.8,225.1 L359.8,225.9 L357.9,226.7 L356.1,227.6 L354.4,228.6 L352.6,229.6 L350.8,230.6 L349.0,231.7 L347.2,232.8 L345.5,233.9 L343.7,235.0 L342.0,236.2 L340.4,237.4 L338.7,238.5 L337.1,239.7 L335.6,240.9 L334.1,242.1 L332.6,243.3 L331.2,244.5 L329.8,245.7 L328.4,246.9 L327.1,248.2 L325.7,249.5 L324.4,250.7 L323.1,252.1 L321.8,253.4 L320.5,254.8 L319.2,256.2 L317.9,257.7 L316.6,259.2 L315.3,260.8 L314.1,262.3 L312.9,263.9 L311.7,265.5 L310.5,267.0 L309.4,268.5 L308.3,269.9 L307.2,271.3 L306.2,272.6 L305.3,273.8 L304.3,275.0 L303.4,276.2 L302.5,277.3 L301.7,278.4 L300.8,279.5 L300.0,280.6 L299.2,281.7 L298.4,282.9 L297.6,284.0 L296.8,285.2 L296.0,286.5 L295.2,287.8 L294.5,289.0 L293.8,290.3 L293.1,291.6 L292.4,292.9 L291.8,294.2 L291.1,295.5 L290.5,296.8 L289.9,298.1 L289.3,299.4 L288.6,300.7 L288.0,301.9 L287.4,303.2 L286.7,304.5 L286.0,305.9 L285.3,307.2 L284.7,308.6 L284.0,309.9 L283.3,311.3 L282.6,312.7 L282.0,314.1 L281.3,315.5 L280.7,316.9 L280.1,318.3 L279.5,319.7 L279.0,321.0 L278.4,322.4 L277.9,323.8 L277.4,325.2 L276.9,326.6 L276.4,327.9 L275.9,329.3 L275.5,330.7 L275.0,332.1 L274.6,333.4 L274.2,334.8 L273.8,336.2 L273.4,337.5 L273.1,338.9 L272.7,340.2 L272.4,341.5 L272.1,342.8 L271.8,344.2 L271.5,345.5 L271.2,346.9 L270.9,348.3 L270.6,349.7 L270.3,351.2 L270.0,352.7 L269.7,354.2 L269.4,355.7 L269.0,357.3 L268.7,358.9 L268.4,360.5 L268.1,362.2 L267.7,363.9 L267.4,365.7 L267.1,367.5 L266.8,369.4 L266.4,371.4 L266.1,373.5 L265.8,375.6 L265.4,377.8 L265.1,380.1 L264.7,382.5 L264.4,384.9 L264.1,387.3 L263.8,389.7 L263.4,392.2 L263.1,394.7 L262.8,397.1 L262.5,399.6 L262.2,402.0 L261.9,404.5 L261.6,407.0 L261.3,409.6 L261.0,412.2 L260.7,414.8 L260.4,417.4 L260.1,420.0 L259.9,422.5 L259.7,425.0 L259.5,427.5 L259.5,429.9 L259.4,432.2 L259.4,434.4 L259.4,436.6 L259.5,438.7 L259.5,440.8 L259.7,442.9 L259.8,445.0 L260.0,447.0 L260.2,449.1 L260.4,451.2 L260.7,453.3 L260.9,455.5 L261.2,457.7 L261.5,459.9 L261.8,462.2 L262.2,464.4 L262.6,466.8 L263.0,469.1 L263.4,471.4 L263.9,473.8 L264.5,476.2 L265.1,478.5 L265.8,480.9 L266.6,483.2 L267.4,485.5 L268.3,487.9 L269.3,490.3 L270.4,492.6 L271.5,495.0 L272.6,497.3 L273.8,499.6 L275.0,501.9 L276.2,504.1 L277.5,506.2 L278.7,508.2 L279.9,510.1 L281.3,511.9 L282.7,513.8 L284.2,515.5 L285.7,517.2 L287.2,518.8 L288.7,520.3 L290.1,521.7 L291.5,522.9 L292.7,524.1 L293.8,525.1 L294.6,525.9 L295.3,526.6 L300.7,521.4 L299.9,520.6 L298.9,519.7 L297.8,518.6 L296.6,517.5 L295.3,516.3 L293.9,515.0 L292.5,513.6 L291.1,512.1 L289.7,510.6 L288.4,509.1 L287.2,507.5 L286.1,505.9 L284.9,504.2 L283.8,502.3 L282.6,500.4 L281.5,498.3 L280.3,496.2 L279.2,494.0 L278.1,491.8 L277.0,489.6 L276.0,487.3 L275.1,485.1 L274.2,482.9 L273.4,480.8 L272.7,478.7 L272.1,476.6 L271.5,474.4 L271.0,472.2 L270.5,470.0 L270.1,467.8 L269.7,465.6 L269.3,463.3 L269.0,461.1 L268.7,458.9 L268.4,456.7 L268.1,454.5 L267.8,452.4 L267.5,450.4 L267.3,448.4 L267.1,446.4 L266.9,444.4 L266.8,442.5 L266.7,440.5 L266.6,438.5 L266.5,436.5 L266.5,434.4 L266.5,432.3 L266.5,430.1 L266.6,427.8 L266.8,425.5 L266.9,423.1 L267.1,420.6 L267.4,418.1 L267.7,415.6 L267.9,413.0 L268.3,410.5 L268.6,407.9 L268.9,405.4 L269.2,402.9 L269.5,400.4 L269.8,398.0 L270.1,395.6 L270.4,393.1 L270.8,390.7 L271.1,388.3 L271.5,385.9 L271.8,383.5 L272.2,381.2 L272.5,378.9 L272.9,376.7 L273.2,374.6 L273.6,372.6 L273.9,370.7 L274.3,368.8 L274.6,367.0 L274.9,365.3 L275.3,363.6 L275.6,362.0 L276.0,360.4 L276.3,358.9 L276.6,357.3 L277.0,355.8 L277.3,354.3 L277.7,352.8 L278.0,351.3 L278.3,349.9 L278.7,348.6 L279.0,347.2 L279.3,345.9 L279.6,344.7 L280.0,343.4 L280.3,342.2 L280.7,340.9 L281.0,339.7 L281.4,338.5 L281.8,337.2 L282.2,335.9 L282.7,334.6 L283.2,333.3 L283.6,332.0 L284.1,330.7 L284.6,329.4 L285.1,328.2 L285.7,326.9 L286.2,325.6 L286.7,324.3 L287.3,323.0 L287.9,321.7 L288.5,320.4 L289.1,319.1 L289.7,317.9 L290.4,316.6 L291.1,315.2 L291.8,313.9 L292.5,312.6 L293.2,311.3 L293.9,310.0 L294.6,308.7 L295.3,307.4 L296.0,306.1 L296.7,304.8 L297.4,303.5 L298.0,302.2 L298.7,300.9 L299.3,299.7 L300.0,298.5 L300.6,297.3 L301.3,296.1 L302.0,294.9 L302.6,293.8 L303.3,292.6 L304.0,291.5 L304.7,290.4 L305.4,289.4 L306.1,288.4 L306.9,287.3 L307.6,286.3 L308.4,285.3 L309.2,284.2 L310.0,283.2 L310.9,282.0 L311.8,280.9 L312.8,279.7 L313.8,278.4 L314.8,277.1 L315.9,275.7 L317.0,274.2 L318.1,272.7 L319.2,271.2 L320.4,269.7 L321.5,268.2 L322.7,266.7 L323.9,265.3 L325.1,263.9 L326.3,262.5 L327.5,261.2 L328.7,260.0 L329.9,258.7 L331.1,257.5 L332.3,256.3 L333.6,255.1 L334.8,253.9 L336.1,252.8 L337.4,251.7 L338.7,250.6 L340.1,249.5 L341.4,248.4 L342.9,247.3 L344.3,246.2 L345.9,245.1 L347.4,244.0 L349.0,242.9 L350.6,241.9 L352.3,240.8 L353.9,239.8 L355.6,238.8 L357.2,237.8 L358.9,236.9 L360.5,236.1 L362.1,235.3 L363.6,234.5 L365.3,233.8 L367.1,233.0 L368.9,232.3 L370.8,231.6 L372.6,231.0 L374.4,230.4 L376.1,229.8 L377.7,229.3 L379.1,228.8 L380.3,228.4 L381.3,228.0 Z" fill="#17181b" stroke="none" /><circle cx="380.0" cy="224.0" r="4.2" fill="#17181b" stroke="none"/><circle cx="298.0" cy="524.0" r="3.8" fill="#17181b" stroke="none"/>
<path d="M380.0,224.0 C376.7,225.2 366.7,227.8 360.0,231.0 C353.3,234.2 346.0,239.0 340.0,243.5 C334.0,248.0 329.0,252.7 324.0,258.0 C319.0,263.3 314.0,270.3 310.0,275.5 C306.0,280.7 303.0,284.2 300.0,289.0 C297.0,293.8 294.7,298.8 292.0,304.0 C289.3,309.2 286.3,314.7 284.0,320.0 C281.7,325.3 279.7,330.7 278.0,336.0 C276.3,341.3 274.7,349.3 274.0,352.0" stroke="#45484d" stroke-width="1.5" transform="translate(-1.5,-1.5)"/>
<path d="M274.0,352.0 C273.3,355.3 271.3,364.0 270.0,372.0 C268.7,380.0 267.2,390.3 266.0,400.0 C264.8,409.7 263.2,420.8 263.0,430.0 C262.8,439.2 263.3,446.3 264.5,455.0 C265.7,463.7 266.9,473.2 270.0,482.0 C273.1,490.8 278.3,501.0 283.0,508.0 C287.7,515.0 295.5,521.3 298.0,524.0" stroke="#0c0d10" stroke-width="9.6" stroke-dasharray="2.6 9.5" stroke-linecap="butt"/>
<path d="M329.0,360.0 C330.5,363.3 335.2,373.3 338.0,380.0 C340.8,386.7 342.9,393.3 346.0,400.0 C349.1,406.7 352.8,413.2 356.5,420.0 C360.2,426.8 364.4,434.2 368.5,441.0 C372.6,447.8 377.4,455.7 381.0,460.5 C384.6,465.3 386.8,466.8 390.0,470.0 C393.2,473.2 396.7,477.0 400.0,480.0 C403.3,483.0 406.7,485.6 410.0,488.0 C413.3,490.4 416.7,492.7 420.0,494.5 C423.3,496.3 426.7,497.8 430.0,499.0 C433.3,500.2 436.7,500.8 440.0,501.5 C443.3,502.2 443.3,502.6 450.0,503.2 C456.7,503.8 472.1,504.5 480.0,505.0 C487.9,505.5 486.5,504.9 497.5,506.0 C508.5,507.1 533.9,509.2 546.0,511.5 C558.1,513.8 566.0,518.6 570.0,520.0" stroke="#0c0d10" stroke-width="10" stroke-dasharray="2.6 10" stroke-linecap="butt"/>
<path d="M258.0,437.0 C260.0,437.5 266.0,437.5 270.0,440.0 C274.0,442.5 278.3,446.2 282.0,452.0 C285.7,457.8 289.3,465.7 292.0,475.0 C294.7,484.3 297.0,502.5 298.0,508.0" stroke="#17181b" stroke-width="4"/>
<path d="M298.0,524.0 C301.7,524.0 313.7,523.8 320.0,524.0 C326.3,524.2 328.7,524.5 336.0,525.5 C343.3,526.5 354.8,527.8 364.0,530.0 C373.2,532.2 381.8,535.6 391.0,539.0 C400.2,542.4 409.8,546.8 419.0,550.5 C428.2,554.2 438.3,558.3 446.0,561.0 C453.7,563.7 456.4,565.8 465.0,566.5 C473.6,567.2 486.7,565.8 497.5,565.0 C508.3,564.2 520.4,563.3 530.0,562.0 C539.6,560.7 545.8,558.8 555.0,557.0 C564.2,555.2 577.7,552.4 585.0,551.0 C592.3,549.6 596.7,548.9 599.0,548.5" stroke="#141518" stroke-width="10.5"/>
<path d="M298.0,524.0 C301.7,524.0 313.7,523.8 320.0,524.0 C326.3,524.2 328.7,524.5 336.0,525.5 C343.3,526.5 354.8,527.8 364.0,530.0 C373.2,532.2 381.8,535.6 391.0,539.0 C400.2,542.4 409.8,546.8 419.0,550.5 C428.2,554.2 438.3,558.3 446.0,561.0 C453.7,563.7 461.8,565.6 465.0,566.5" stroke="#141518" stroke-width="11.5"/>
<path d="M465.0,566.5 C470.4,566.2 486.7,565.8 497.5,565.0 C508.3,564.2 520.4,563.3 530.0,562.0 C539.6,560.7 545.8,558.8 555.0,557.0 C564.2,555.2 577.7,552.4 585.0,551.0 C592.3,549.6 596.7,548.9 599.0,548.5" stroke="#7e8388" stroke-width="2.4" transform="translate(0.5,-2.6)"/>
<path d="M320.0,524.0 C322.7,524.2 328.7,524.5 336.0,525.5 C343.3,526.5 354.8,527.8 364.0,530.0 C373.2,532.2 381.8,535.6 391.0,539.0 C400.2,542.4 409.8,546.8 419.0,550.5 C428.2,554.2 438.3,558.3 446.0,561.0 C453.7,563.7 461.8,565.6 465.0,566.5" stroke="#45484d" stroke-width="1.6" transform="translate(0,-3)"/>
<path d="M601.5,535 Q610.5,539.5 609,545 Q607,550.5 596.5,549.5" stroke="#141518" stroke-width="9"/>
<path d="M602,538 Q606.5,540.5 605.5,544 Q604,547 598,546.5" stroke="#6e7277" stroke-width="1.8"/>
<path d="M313.2,517.0 Q307.7,524.0 310.2,531.0" stroke="#08090b" stroke-width="2.6"/>
<path d="M332.3,517.9 Q326.1,524.9 327.9,531.9" stroke="#08090b" stroke-width="2.6"/>
<path d="M355.9,521.3 Q349.3,528.2 350.7,535.1" stroke="#08090b" stroke-width="2.6"/>
<path d="M384.4,528.8 Q376.7,535.4 377.0,542.0" stroke="#08090b" stroke-width="2.6"/>
<path d="M412.5,539.4 Q404.3,545.9 404.1,552.4" stroke="#08090b" stroke-width="2.6"/>
<path d="M439.7,550.3 Q431.7,556.8 431.7,563.3" stroke="#08090b" stroke-width="2.6"/>
<path d="M461.3,557.6 Q453.9,564.3 454.5,571.0" stroke="#08090b" stroke-width="2.6"/>
<path d="M486.2,558.6 Q481.0,565.6 483.8,572.6" stroke="#08090b" stroke-width="2.6"/>
<path d="M518.4,556.2 Q513.5,563.2 516.6,570.2" stroke="#08090b" stroke-width="2.6"/>
<path d="M545.6,552.1 Q541.5,559.0 545.4,565.9" stroke="#08090b" stroke-width="2.6"/>
<path d="M573.6,546.5 Q569.5,553.4 573.4,560.3" stroke="#08090b" stroke-width="2.6"/>
<path d="M594.2,542.6 Q589.9,549.5 593.6,556.4" stroke="#08090b" stroke-width="2.6"/>
<circle cx="380" cy="224" r="5" fill="#54575c" stroke="none"/>
<circle cx="389.2" cy="223" r="5" fill="#3a3c41" stroke="none"/>
<path d="M485,575.5 L497,570 L508,568 L511.5,572.5 L501,576.5 L493,578.5 Z" fill="#141518" stroke="#141518" stroke-width="2"/>
<path d="M254,437 L262,436" stroke="#2a2c30" stroke-width="2"/>
</g>
<g id="hub">
<path d="M359,157 L364,153.5 L382,152.5 L384,155 L383.5,160 L378,163.5 L368,164.5 L366,161 L360,160.5 Z" fill="#15161a"/>
<path d="M380.5,158 L384.5,171" stroke="#15161a" stroke-width="5.5" stroke-linecap="round"/>
<circle cx="384.3" cy="176.3" r="7.2" fill="#1b1c20"/>
<path d="M379,183 L386,186 L384.5,190 L379.5,190 Z" fill="#15161a" stroke="#15161a" stroke-width="1.5" stroke-linejoin="round"/>
<path d="M376,193.8 L387.5,193" stroke="#15161a" stroke-width="2.6" stroke-linecap="round"/>
<path d="M376.8,196 L376.8,211 Q377,215 379.3,217.5 Q381.6,215 381.8,211 L381.8,196" fill="none" stroke="#e3e7ea" stroke-width="1.5"/>
<path d="M379.3,196 L379.3,215" stroke="#4f7f88" stroke-width="1.6"/>
<path d="M379.3,217 L380,221" stroke="#6d7378" stroke-width="2"/>
</g>
</g>

<!-- ===== DIMENSIONS ===== -->
<g id="dims">
<path d="M178.0,144.3 L178.0,640.9" stroke="#13266b" stroke-width="2.4" fill="none"/>
<path d="M178.0,135.2 L172.2,146.6 L183.8,146.6 Z" fill="#13266b"/>
<path d="M178.0,650.0 L172.2,638.6 L183.8,638.6 Z" fill="#13266b"/>
<path d="M347.0,129.4 L573.5,163.6" stroke="#13266b" stroke-width="2.4" fill="none"/>
<path d="M338.0,128.0 L348.4,135.4 L350.1,124.0 Z" fill="#13266b"/>
<path d="M582.5,165.0 L570.4,169.0 L572.1,157.6 Z" fill="#13266b"/>
<path d="M420.5,244.0 L564.5,188.5" stroke="#13266b" stroke-width="2.4" fill="none"/>
<path d="M412.0,247.3 L424.7,248.6 L420.6,237.8 Z" fill="#13266b"/>
<path d="M573.0,185.2 L564.4,194.7 L560.3,183.9 Z" fill="#13266b"/>
<path d="M417.8,248.6 L417.8,476.4" stroke="#13266b" stroke-width="2.4" fill="none"/>
<path d="M417.8,239.5 L412.1,250.9 L423.6,250.9 Z" fill="#13266b"/>
<path d="M417.8,485.5 L412.1,474.1 L423.6,474.1 Z" fill="#13266b"/>
<path d="M344.7,362.8 L413.6,476.7" stroke="#13266b" stroke-width="2.4" fill="none"/>
<path d="M340.0,355.0 L341.0,367.7 L350.8,361.8 Z" fill="#13266b"/>
<path d="M418.3,484.5 L407.5,477.7 L417.3,471.8 Z" fill="#13266b"/>
<path d="M412.9,478.5 L624.6,525.7" stroke="#13266b" stroke-width="2.4" fill="none"/>
<path d="M404.0,476.5 L413.9,484.6 L416.4,473.4 Z" fill="#13266b"/>
<path d="M633.5,527.7 L621.1,530.8 L623.6,519.6 Z" fill="#13266b"/>
<path d="M476.5,587.8 L607.8,562.3" stroke="#13266b" stroke-width="2.4" fill="none"/>
<path d="M467.5,589.5 L479.8,593.0 L477.6,581.7 Z" fill="#13266b"/>
<path d="M616.8,560.6 L606.7,568.4 L604.5,557.1 Z" fill="#13266b"/>
<path d="M557.4,567.1 L557.4,668.4" stroke="#13266b" stroke-width="2.4" fill="none"/>
<path d="M557.4,558.0 L551.6,569.4 L563.1,569.4 Z" fill="#13266b"/>
<path d="M557.4,677.5 L551.6,666.1 L563.1,666.1 Z" fill="#13266b"/>
<path d="M334.8,733.5 L547.4,685.7" stroke="#13266b" stroke-width="2.4" fill="none"/>
<path d="M325.9,735.5 L338.3,738.6 L335.8,727.4 Z" fill="#13266b"/>
<path d="M556.3,683.7 L546.4,691.8 L543.9,680.6 Z" fill="#13266b"/>
<path d="M228.3,649.3 L317.6,727.6" stroke="#13266b" stroke-width="2.4" fill="none"/>
<path d="M221.4,643.3 L226.2,655.1 L233.8,646.5 Z" fill="#13266b"/>
<path d="M324.5,733.6 L312.1,730.4 L319.7,721.8 Z" fill="#13266b"/>
<g id="t1">
<text class="lbl" x="456.0" y="138.0" font-size="17.5" textLength="45.1" lengthAdjust="spacingAndGlyphs">43.31</text>
<path d="M504.8,125.2 L507.4,125.2 L504.2,130.6 L502.4,130.6 Z" fill="#13266b"/>
<path d="M509.8,125.2 L512.5,125.2 L509.3,130.6 L507.5,130.6 Z" fill="#13266b"/>
</g>
<g id="t2">
<text class="lbl" x="481.2" y="239.5" font-size="17.5" textLength="45.6" lengthAdjust="spacingAndGlyphs">43.31</text>
<path d="M530.6,226.7 L533.3,226.7 L530.0,232.1 L528.2,232.1 Z" fill="#13266b"/>
<path d="M535.7,226.7 L538.4,226.7 L535.1,232.1 L533.4,232.1 Z" fill="#13266b"/>
</g>
<g id="t3">
<text class="lbl" x="425.8" y="360.6" font-size="17.5" textLength="46.2" lengthAdjust="spacingAndGlyphs">40.94</text>
<path d="M475.8,347.8 L478.5,347.8 L475.2,353.2 L473.4,353.2 Z" fill="#13266b"/>
<path d="M481.0,347.8 L483.7,347.8 L480.4,353.2 L478.6,353.2 Z" fill="#13266b"/>
</g>
<g id="t4">
<text class="lbl" x="357.0" y="379.0" font-size="17.5" textLength="46.7" lengthAdjust="spacingAndGlyphs">29.52</text>
<path d="M407.5,366.2 L410.3,366.2 L406.9,371.6 L405.1,371.6 Z" fill="#13266b"/>
<path d="M412.8,366.2 L415.5,366.2 L412.2,371.6 L410.4,371.6 Z" fill="#13266b"/>
</g>
<g id="t5">
<text class="lbl" x="504.8" y="493.6" font-size="17.5" textLength="45.1" lengthAdjust="spacingAndGlyphs">53.15</text>
<path d="M553.6,480.8 L556.2,480.8 L553.0,486.2 L551.2,486.2 Z" fill="#13266b"/>
<path d="M558.6,480.8 L561.3,480.8 L558.1,486.2 L556.3,486.2 Z" fill="#13266b"/>
</g>
<g id="t6" transform="rotate(-8.5 492.8 600.0)">
<text class="lbl" x="493.0" y="600.0" font-size="17.5" textLength="45.9" lengthAdjust="spacingAndGlyphs">29.52</text>
<path d="M542.7,587.2 L545.3,587.2 L542.1,592.6 L540.3,592.6 Z" fill="#13266b"/>
<path d="M547.8,587.2 L550.5,587.2 L547.2,592.6 L545.4,592.6 Z" fill="#13266b"/>
</g>
<g id="t7">
<text class="lbl" x="560.7" y="621.0" font-size="17.5" textLength="46.7" lengthAdjust="spacingAndGlyphs">24.02</text>
<path d="M611.2,608.2 L614.0,608.2 L610.6,613.6 L608.8,613.6 Z" fill="#13266b"/>
<path d="M616.5,608.2 L619.2,608.2 L615.9,613.6 L614.1,613.6 Z" fill="#13266b"/>
</g>
<g id="t8">
<text class="lbl" x="438.7" y="726.4" font-size="17.5" textLength="48.1" lengthAdjust="spacingAndGlyphs">42.52</text>
<path d="M490.8,713.6 L493.6,713.6 L490.2,719.0 L488.3,719.0 Z" fill="#13266b"/>
<path d="M496.2,713.6 L499.0,713.6 L495.6,719.0 L493.7,719.0 Z" fill="#13266b"/>
</g>
<g id="t9">
<text class="lbl" x="215.9" y="711.7" font-size="17.5" textLength="47.7" lengthAdjust="spacingAndGlyphs">44.89</text>
<path d="M267.6,698.9 L270.4,698.9 L266.9,704.3 L265.1,704.3 Z" fill="#13266b"/>
<path d="M272.9,698.9 L275.7,698.9 L272.3,704.3 L270.5,704.3 Z" fill="#13266b"/>
</g>
<g id="t10">
<text class="lbl" x="184.4" y="451.0" font-size="17.5" textLength="47.2" lengthAdjust="spacingAndGlyphs">82.68</text>
<path d="M235.5,438.2 L238.3,438.2 L234.9,443.6 L233.1,443.6 Z" fill="#13266b"/>
<path d="M240.9,438.2 L243.6,438.2 L240.2,443.6 L238.4,443.6 Z" fill="#13266b"/>
</g>
</g>
</svg>
</body>
</html>
